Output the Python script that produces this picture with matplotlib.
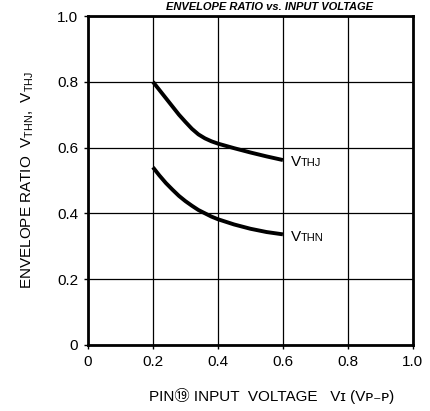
import matplotlib.pyplot as plt

# curve data
vi_thj = [0.20, 0.22, 0.24, 0.26, 0.28, 0.30, 0.32, 0.34, 0.36, 0.38, 0.40, 0.45, 0.50, 0.55, 0.60]
thj = [0.80, 0.775, 0.75, 0.725, 0.70, 0.678, 0.657, 0.640, 0.628, 0.619, 0.612, 0.598, 0.585, 0.573, 0.562]
vi_thn = [0.20, 0.22, 0.24, 0.26, 0.28, 0.30, 0.32, 0.34, 0.36, 0.38, 0.40, 0.45, 0.50, 0.55, 0.60]
thn = [0.54, 0.515, 0.492, 0.472, 0.453, 0.437, 0.423, 0.410, 0.400, 0.390, 0.382, 0.366, 0.353, 0.343, 0.336]

ticks = [0, 0.2, 0.4, 0.6, 0.8, 1.0]
tick_labels = ["0", "0.2", "0.4", "0.6", "0.8", "1.0"]

plt.rcParams['font.family'] = ['Liberation Sans', 'DejaVu Sans', 'Noto Sans CJK JP']

fig = plt.figure(figsize=(4.31, 4.11), dpi=100)
ax = fig.add_axes([0.204, 0.161, 0.754, 0.800])

ax.plot(vi_thj, thj, color='black', lw=2.8, solid_capstyle='butt', solid_joinstyle='round')
ax.plot(vi_thn, thn, color='black', lw=2.8, solid_capstyle='butt', solid_joinstyle='round')

ax.set_xlim(0, 1.0)
ax.set_ylim(0, 1.0)
ax.set_xticks(ticks)
ax.set_xticklabels(tick_labels, fontsize=11)
ax.set_yticks(ticks)
ax.set_yticklabels(tick_labels, fontsize=11)
ax.tick_params(length=3, width=1, pad=4)
ax.grid(True, color='black', lw=0.9)
for s in ax.spines.values():
    s.set_linewidth(2)

# curve labels
ax.text(0.625, 0.556, "V", fontsize=11, va='center')
ax.text(0.655, 0.553, "THJ", fontsize=8, va='center')
ax.text(0.625, 0.328, "V", fontsize=11, va='center')
ax.text(0.655, 0.325, "THN", fontsize=8, va='center')

ax.set_ylabel(r"ENVELOPE RATIO  V$_\mathregular{THN}$,  V$_\mathregular{THJ}$", fontsize=11, labelpad=15)
fig.text(0.63, 0.037, "PIN⑲ INPUT  VOLTAGE   Vɪ (Vᴘ₋ᴘ)", fontsize=11, ha='center', va='center')

# title squeezed into the strip above the frame
fig.text(0.625, 0.996, "ENVELOPE RATIO vs. INPUT VOLTAGE", fontsize=8, fontweight='bold',
         fontstyle='italic', ha='center', va='top')

fig.savefig("out.png", dpi=100)
